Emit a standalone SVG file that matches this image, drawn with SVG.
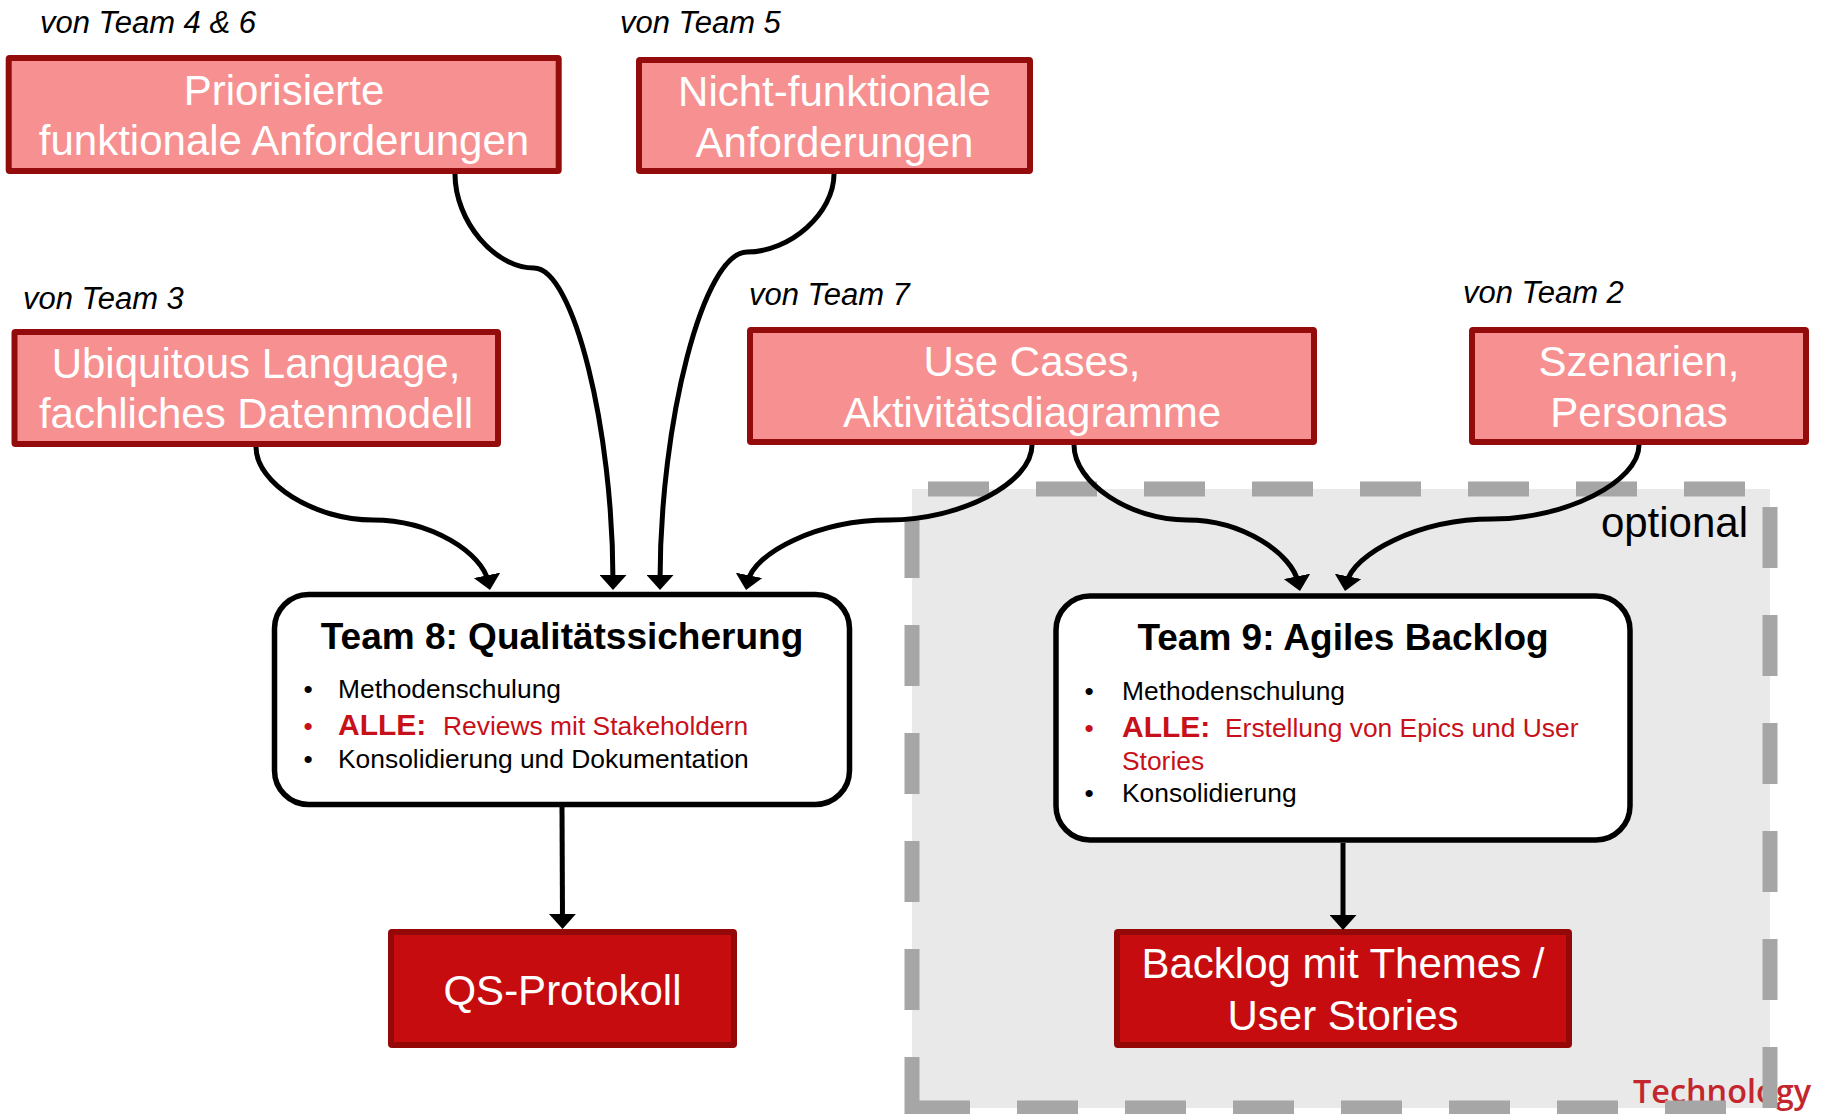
<svg xmlns="http://www.w3.org/2000/svg" width="1824" height="1114" viewBox="0 0 1824 1114">
<style>
  .src { fill: #F79191; stroke: #940B0B; stroke-width: 6; }
  .out { fill: #C70C10; stroke: #940808; stroke-width: 6; }
  .team { fill: #FFFFFF; stroke: #000000; stroke-width: 5.5; }
  .bt { font-family: "Liberation Sans", Arial, sans-serif; font-size: 42px; fill: #FFFFFF; text-anchor: middle; }
  .lbl { font-family: "Liberation Sans", Arial, sans-serif; font-size: 31px; font-style: italic; fill: #000000; }
  .ttl { font-family: "Liberation Sans", Arial, sans-serif; font-size: 37px; font-weight: bold; fill: #000000; text-anchor: middle; }
  .li { font-family: "Liberation Sans", Arial, sans-serif; font-size: 26.4px; fill: #000000; }
  .red { fill: #C8101A; }
  .alle { font-family: "Liberation Sans", Arial, sans-serif; font-size: 30px; font-weight: bold; fill: #C8101A; }
  .dot { font-family: "Liberation Sans", Arial, sans-serif; font-size: 26.4px; text-anchor: middle; }
  .dash { stroke: #A6A6A6; stroke-width: 15; stroke-dasharray: 61 47; fill: none; }
  .con { fill: none; stroke: #000000; stroke-width: 5; }
</style>
<defs>
  <marker id="arr" markerUnits="userSpaceOnUse" viewBox="0 0 15 27" markerWidth="15" markerHeight="27" refX="7" refY="13.5" orient="auto">
    <path d="M0,0 L15,13.5 L0,27 Z" fill="#000000"/>
  </marker>
</defs>

<g id="optional-region">
  <rect x="912" y="489" width="858" height="619" fill="#E9E9E9"/>
  <text x="1633" y="1102.6" font-family="'Open Sans', 'Liberation Sans', sans-serif" font-size="33" font-weight="600" fill="#C4262E" textLength="178" lengthAdjust="spacingAndGlyphs">Technology</text>
  <line class="dash" x1="912" y1="489" x2="1770" y2="489" stroke-dashoffset="-16"/>
  <line class="dash" x1="1770" y1="489" x2="1770" y2="1108" stroke-dashoffset="-18"/>
  <line class="dash" x1="1770" y1="1108" x2="912" y2="1108" stroke-dashoffset="-44"/>
  <line class="dash" x1="912" y1="1115.5" x2="912" y2="489" stroke-dashoffset="2.5"/>
  <text x="1748" y="537" font-family="'Liberation Sans', Arial, sans-serif" font-size="42" fill="#000000" text-anchor="end">optional</text>
</g>

<g id="node-priorisierte">
  <text class="lbl" x="40" y="33">von Team 4 &amp; 6</text>
  <rect class="src" x="8.7" y="58" width="550" height="113" rx="1"/>
  <text class="bt" x="284" y="105">Priorisierte</text>
  <text class="bt" x="284" y="155">funktionale Anforderungen</text>
</g>

<g id="node-nichtfunktional">
  <text class="lbl" x="620" y="33">von Team 5</text>
  <rect class="src" x="639" y="60" width="391" height="111" rx="1"/>
  <text class="bt" x="834.5" y="106">Nicht-funktionale</text>
  <text class="bt" x="834.5" y="157">Anforderungen</text>
</g>

<g id="node-ubiquitous">
  <text class="lbl" x="23" y="309">von Team 3</text>
  <rect class="src" x="14.5" y="332" width="483.5" height="112" rx="1"/>
  <text class="bt" x="256" y="378">Ubiquitous Language,</text>
  <text class="bt" x="256" y="428">fachliches Datenmodell</text>
</g>

<g id="node-usecases">
  <text class="lbl" x="749" y="305">von Team 7</text>
  <rect class="src" x="750" y="330" width="564" height="112" rx="1"/>
  <text class="bt" x="1032" y="376">Use Cases,</text>
  <text class="bt" x="1032" y="427">Aktivitätsdiagramme</text>
</g>

<g id="node-szenarien">
  <text class="lbl" x="1463" y="303">von Team 2</text>
  <rect class="src" x="1472" y="330" width="334" height="112" rx="1"/>
  <text class="bt" x="1639" y="376">Szenarien,</text>
  <text class="bt" x="1639" y="427">Personas</text>
</g>

<g id="node-team8">
  <rect class="team" x="274.5" y="594.5" width="575" height="210" rx="34"/>
  <text class="ttl" x="562" y="649">Team 8: Qualitätssicherung</text>
  <text class="dot" x="308" y="698">•</text>
  <text class="li" x="338" y="698">Methodenschulung</text>
  <text class="dot red" x="308" y="735">•</text>
  <text class="alle" x="338" y="735">ALLE:</text>
  <text class="li red" x="443" y="735">Reviews mit Stakeholdern</text>
  <text class="dot" x="308" y="768">•</text>
  <text class="li" x="338" y="768">Konsolidierung und Dokumentation</text>
</g>

<g id="node-team9">
  <rect class="team" x="1056" y="596" width="574" height="244" rx="34"/>
  <text class="ttl" x="1343" y="650">Team 9: Agiles Backlog</text>
  <text class="dot" x="1089" y="700">•</text>
  <text class="li" x="1122" y="700">Methodenschulung</text>
  <text class="dot red" x="1089" y="737">•</text>
  <text class="alle" x="1122" y="737">ALLE:</text>
  <text class="li red" x="1225" y="737">Erstellung von Epics und User</text>
  <text class="li red" x="1122" y="770">Stories</text>
  <text class="dot" x="1089" y="802">•</text>
  <text class="li" x="1122" y="802">Konsolidierung</text>
</g>

<g id="node-qsprotokoll">
  <rect class="out" x="391" y="932" width="343" height="113" rx="1"/>
  <text class="bt" x="562.5" y="1005">QS-Protokoll</text>
</g>

<g id="node-backlog">
  <rect class="out" x="1117" y="932" width="452" height="113" rx="1"/>
  <text class="bt" x="1343" y="978">Backlog mit Themes /</text>
  <text class="bt" x="1343" y="1030">User Stories</text>
</g>

<g id="connectors">
  <path class="con" marker-end="url(#arr)" d="M 455 174 C 455 221, 494.5 268, 534 268 C 573.5 268, 613 429, 613 582"/>
  <path class="con" marker-end="url(#arr)" d="M 834 174 C 834 213, 790.5 252, 747 252 C 703.5 252, 660 421, 660 582"/>
  <path class="con" marker-end="url(#arr)" d="M 256 447 C 256 483.5, 314.5 520, 373 520 C 431.5 520, 482.5 553, 488.4 582.2"/>
  <path class="con" marker-end="url(#arr)" d="M 1032 445 C 1032 483, 960.5 520, 889 520 C 817.5 520, 753.5 553, 747.6 582.2"/>
  <path class="con" marker-end="url(#arr)" d="M 1074 445 C 1074 483, 1130 520, 1187 520 C 1243 520, 1292.5 554, 1298.4 583.2"/>
  <path class="con" marker-end="url(#arr)" d="M 1639 445 C 1639 482, 1565.5 519, 1492 519 C 1418.5 519, 1352.5 554, 1346.6 583.2"/>
  <path class="con" marker-end="url(#arr)" d="M 562 807 L 562.5 921"/>
  <path class="con" marker-end="url(#arr)" d="M 1343 843 L 1343 922"/>
</g>
</svg>
